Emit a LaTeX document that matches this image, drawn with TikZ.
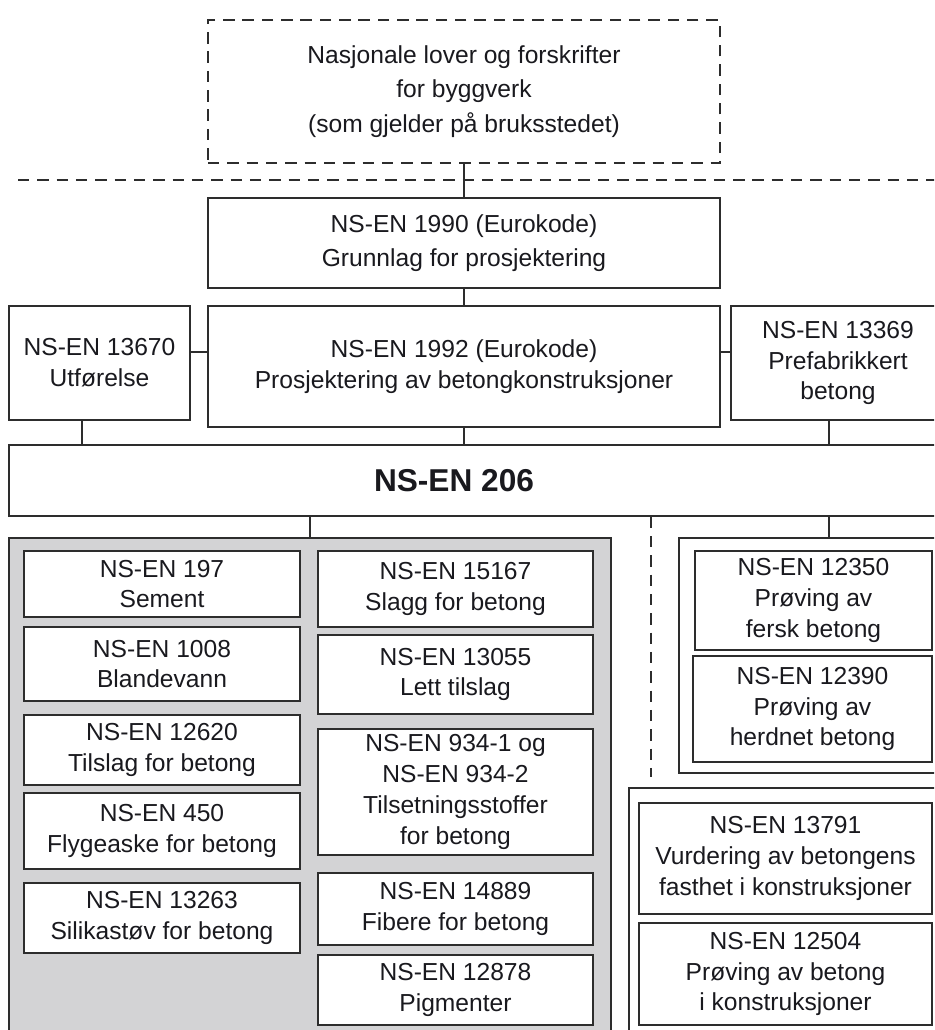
\documentclass[tikz,border=0pt]{standalone}
\usepackage{fontspec}
\setmainfont{Liberation Sans}
\usepackage{xcolor}
\definecolor{nsline}{RGB}{45,45,45}
\definecolor{nstext}{RGB}{25,25,30}
\definecolor{nsgrey}{RGB}{211,211,213}
\usetikzlibrary{positioning}

\begin{document}
\begin{tikzpicture}[x=0.02cm, y=-0.02cm,
  sbox/.style={rectangle, draw=nsline, line width=0.8pt, fill=white,
               align=center, text=nstext, inner sep=0pt,
               font=\fontsize{14}{17.5}\selectfont},
  lbox/.style={sbox, dash pattern=on 6.5pt off 4.5pt,
               font=\fontsize{14}{19.5}\selectfont},
  gbox/.style={rectangle, draw=nsline, line width=0.8pt, inner sep=0pt},
  lcol/.style={sbox, minimum width=5.52cm},
  rcol/.style={sbox, minimum width=5.5cm},
  conn/.style={draw=nsline, line width=0.8pt},
  dconn/.style={conn, dash pattern=on 6.5pt off 4.5pt}
]
\useasboundingbox (0,0) rectangle (934,1030);
\clip (0,0) rectangle (934,1030);

% National rules
\node[lbox, minimum width=10.24cm, minimum height=2.86cm] (law) at (464,91.5)
  {Nasjonale lover og forskrifter\\for byggverk\\(som gjelder på bruksstedet)};
\coordinate (divl) at (18,180);
\coordinate (divr) at (950,180);
\draw[dconn] (divl) -- (divr);

% Eurocodes
\node[sbox, minimum width=10.24cm, minimum height=1.8cm,
      font=\fontsize{14}{19}\selectfont] (n1990) at (464,243)
  {NS-EN 1990 (Eurokode)\\Grunnlag for prosjektering};
\node[sbox, minimum width=3.62cm, minimum height=2.28cm] (n13670) at (99.5,363)
  {NS-EN 13670\\Utførelse};
\node[sbox, minimum width=10.24cm, minimum height=2.42cm] (n1992) at (464,366.5)
  {NS-EN 1992 (Eurokode)\\Prosjektering av betongkonstruksjoner};
\node[sbox, minimum width=4.28cm, minimum height=2.28cm] (n13369) at (838,363)
  {NS-EN 13369\\Prefabrikkert\\betong};

% NS-EN 206
\node[gbox, fill=white, minimum width=18.72cm, minimum height=1.42cm] (n206) at (477,480.5) {};
\node[text=nstext, font=\fontsize{18}{22}\selectfont\bfseries] (t206) at (454,480.5) {NS-EN 206};

% Groups
\node[gbox, fill=nsgrey, minimum width=12.04cm, minimum height=10.14cm] (grp) at (310,791.5) {};
\node[gbox, fill=white, minimum width=5.32cm, minimum height=4.7cm] (tst) at (812,655.5) {};
\node[gbox, fill=white, minimum width=6.32cm, minimum height=5.14cm] (ins) at (787,916.5) {};

% Constituent standards
\node[lcol, minimum height=1.32cm] (n197)   at (162,584) {NS-EN 197\\Sement};
\node[lcol, minimum height=1.48cm] (n1008)  at (162,664) {NS-EN 1008\\Blandevann};
\node[lcol, minimum height=1.40cm] (n12620) at (162,750) {NS-EN 12620\\Tilslag for betong};
\node[lcol, minimum height=1.52cm] (n450)   at (162,831) {NS-EN 450\\Flygeaske for betong};
\node[lcol, minimum height=1.40cm] (n13263) at (162,918) {NS-EN 13263\\Silikastøv for betong};

\node[rcol, minimum height=1.52cm] (n15167) at (455.5,589)   {NS-EN 15167\\Slagg for betong};
\node[rcol, minimum height=1.58cm] (n13055) at (455.5,674.5) {NS-EN 13055\\Lett tilslag};
\node[rcol, minimum height=2.52cm] (n934)   at (455.5,792)   {NS-EN 934-1 og\\NS-EN 934-2\\Tilsetningsstoffer\\for betong};
\node[rcol, minimum height=1.44cm] (n14889) at (455.5,909)   {NS-EN 14889\\Fibere for betong};
\node[rcol, minimum height=1.40cm] (n12878) at (455.5,990)   {NS-EN 12878\\Pigmenter};

% Testing standards
\node[sbox, minimum width=4.74cm, minimum height=1.98cm] (n12350) at (813.5,600.5) {NS-EN 12350\\Prøving av\\fersk betong};
\node[sbox, minimum width=4.78cm, minimum height=2.12cm] (n12390) at (812.5,709)   {NS-EN 12390\\Prøving av\\herdnet betong};
\node[sbox, minimum width=5.86cm, minimum height=2.22cm] (n13791) at (785.5,858.5) {NS-EN 13791\\Vurdering av betongens\\fasthet i konstruksjoner};
\node[sbox, minimum width=5.86cm, minimum height=2.04cm] (n12504) at (785.5,974)   {NS-EN 12504\\Prøving av betong\\i konstruksjoner};

% Connectors
\coordinate (hy) at (0,352);
\coordinate (dend) at (651,777);
\draw[conn] (law) -- (n1990);
\draw[conn] (n1990) -- (n1992);
\draw[conn] (n13670.east |- hy) -- (n1992.west |- hy);
\draw[conn] (n1992.east |- hy) -- (n13369.west |- hy);
\draw[conn] ([xshift=-0.35cm]n13670.south) -- ([xshift=-0.35cm]n13670.south |- n206.north);
\draw[conn] (n1992) -- (n1992 |- n206.north);
\draw[conn] ([xshift=-0.18cm]n13369.south) -- ([xshift=-0.18cm]n13369.south |- n206.north);
\draw[conn] (grp.north |- n206.south) -- (grp.north);
\draw[dconn] (dend |- n206.south) -- (dend);
\draw[conn] ([xshift=-0.18cm]n13369.south |- n206.south) -- ([xshift=-0.18cm]n13369.south |- tst.north);
\end{tikzpicture}
\end{document}
